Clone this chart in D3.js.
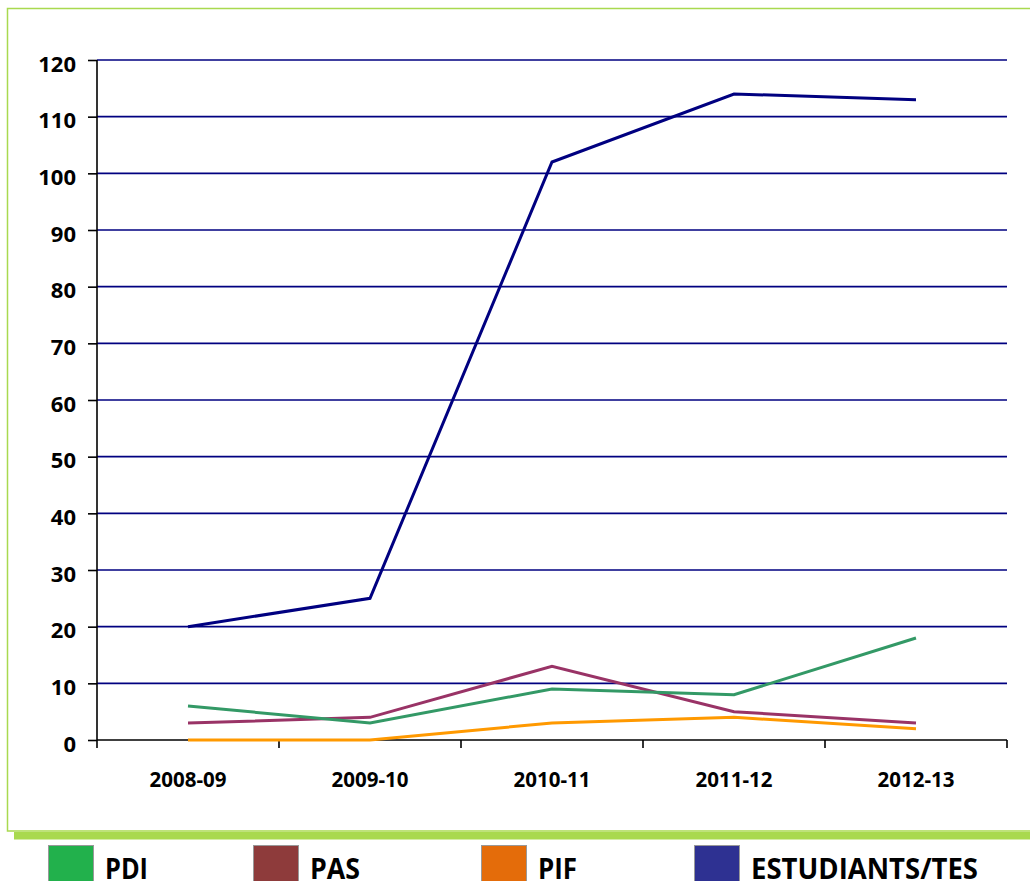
<!DOCTYPE html>
<html>
<head>
<meta charset="utf-8">
<script src="https://cdn.jsdelivr.net/npm/d3@7"></script>
<style>
  html, body { margin: 0; padding: 0; background: #fff; }
  svg { display: block; }
  text { font-family: "Open Sans", "Liberation Sans", sans-serif; font-weight: 700; fill: #000; }
</style>
</head>
<body>
<svg id="chart" width="1030" height="881"></svg>
<script>
// ---- data ----
const categories = ["2008-09", "2009-10", "2010-11", "2011-12", "2012-13"];
const pdi = [6, 3, 9, 8, 18];
const pas = [3, 4, 13, 5, 3];
const pif = [0, 0, 3, 4, 2];
const estudiants = [20, 25, 102, 114, 113];
const yTicks = [0, 10, 20, 30, 40, 50, 60, 70, 80, 90, 100, 110, 120];
const seriesNames = ["PDI", "PAS", "PIF", "ESTUDIANTS/TES"];

// ---- styles ----
const lineColors = ["#339966", "#993366", "#FF9900", "#000080"];
const legendColors = ["#22b14c", "#8e3b3b", "#e46c0a", "#2e3192"];
const frameColor = "#a9d94f";

const svg = d3.select("#chart");

// frame
svg.append("rect").attr("x", 7.5).attr("y", 8.5).attr("width", 1040).attr("height", 822.5)
  .attr("fill", "none").attr("stroke", frameColor).attr("stroke-width", 1.5);
svg.append("rect").attr("x", 14).attr("y", 832).attr("width", 1030).attr("height", 7.5)
  .attr("fill", frameColor);

const pLeft = 97, pRight = 1007, pTop = 60, pBottom = 740;
const x = d3.scaleBand().domain(categories).range([pLeft, pRight]);
const y = d3.scaleLinear().domain([0, 120]).range([pBottom, pTop]);

// gridlines
svg.append("g").selectAll("line").data(yTicks.filter(d => d > 0)).join("line")
  .attr("x1", pLeft).attr("x2", pRight)
  .attr("y1", d => y(d)).attr("y2", d => y(d))
  .attr("stroke", "#000080").attr("stroke-width", 1.6);

// y axis
const yAxis = svg.append("g").attr("transform", `translate(${pLeft},0)`)
  .call(d3.axisLeft(y).tickValues(yTicks).tickSize(9).tickSizeOuter(0).tickPadding(10));
yAxis.select(".domain").attr("stroke", "#000").attr("stroke-width", 1.6)
  .attr("d", `M0,${pTop}V${pBottom + 8}`);
yAxis.selectAll(".tick line").attr("stroke", "#000").attr("stroke-width", 1.6);
yAxis.selectAll(".tick text").attr("font-size", 22).attr("font-family", "'Open Sans', sans-serif")
  .attr("font-weight", 700).attr("fill", "#000").attr("x", -21).attr("dy", "0.5em");

// x axis
const xTickPos = categories.map(c => x(c)).concat([pRight]);
const xg = svg.append("g");
xg.append("line").attr("x1", pLeft).attr("x2", pRight).attr("y1", pBottom).attr("y2", pBottom)
  .attr("stroke", "#000").attr("stroke-width", 1.6);
xg.selectAll("line.tk").data(xTickPos.slice(1)).join("line").attr("class", "tk")
  .attr("x1", d => d).attr("x2", d => d).attr("y1", pBottom).attr("y2", pBottom + 8)
  .attr("stroke", "#000").attr("stroke-width", 1.6);
xg.selectAll("text").data(categories).join("text")
  .attr("x", d => x(d) + x.bandwidth() / 2).attr("y", pBottom + 47)
  .attr("text-anchor", "middle").attr("font-size", 20.5).text(d => d);

// lines
const allSeries = [pdi, pas, pif, estudiants];
const line = d3.line().x((d, i) => x(categories[i]) + x.bandwidth() / 2).y(d => y(d));
[pif, pas, pdi, estudiants].forEach(s => {
  const idx = allSeries.indexOf(s);
  svg.append("path").datum(s).attr("d", line).attr("fill", "none")
    .attr("stroke", lineColors[idx]).attr("stroke-width", 3)
    .attr("stroke-linejoin", "miter");
});

// legend
const legX = [48, 253, 481, 694];
const legTextW = [43, 50, 39, 227];
const lg = svg.append("g");
seriesNames.forEach((n, i) => {
  lg.append("rect").attr("x", legX[i] + 0.5).attr("y", 845.5).attr("width", 45).attr("height", 45)
    .attr("fill", legendColors[i]).attr("stroke", "#999").attr("stroke-width", 1);
  lg.append("text").attr("x", legX[i] + 57).attr("y", 879).attr("font-size", 28)
    .attr("textLength", legTextW[i]).attr("lengthAdjust", "spacingAndGlyphs").text(n);
});
</script>
</body>
</html>
